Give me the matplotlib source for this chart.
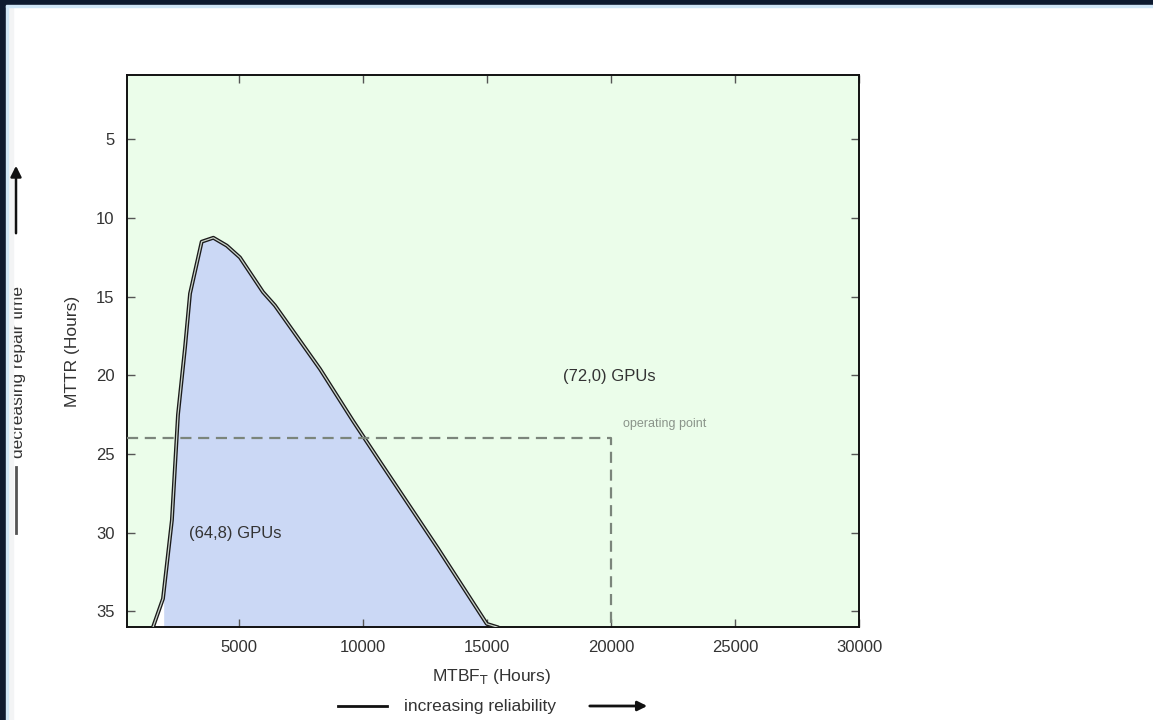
import matplotlib.pyplot as plt
from matplotlib.patches import Rectangle, FancyArrowPatch

plt.rcParams['font.family'] = ['Liberation Sans', 'DejaVu Sans']

# boundary curve of the (64,8) GPU region: MTBF_T (hours) vs MTTR (hours)
mtbf = [1550, 1950, 2310, 2555, 2840, 3040, 3510, 3980, 4520, 5050,
        5980, 6460, 8280, 9610, 10700, 13030, 15000, 15410]
mttr = [36.0, 34.2, 29.2, 22.5, 18.2, 14.8, 11.5, 11.25, 11.75, 12.5,
        14.7, 15.55, 19.6, 22.9, 25.5, 31.0, 35.8, 36.0]

# operating point
op_mtbf = 20000
op_mttr = 24

xticks = [5000, 10000, 15000, 20000, 25000, 30000]
yticks = [5, 10, 15, 20, 25, 30, 35]

W, H = 1153, 720
fig = plt.figure(figsize=(W / 100, H / 100), dpi=100)
fig.patch.set_facecolor('white')

def fx(px):
    return px / W

def fy(py):
    return 1 - py / H

ax = fig.add_axes([fx(127), fy(627), fx(859) - fx(127), fy(75) - fy(627)])
ax.set_facecolor('#ebfdea')
ax.set_xlim(500, 30000)
ax.set_ylim(36, 0.9)

# shaded region under the curve
ax.fill_between(mtbf, mttr, 36, color='#cbd8f5', zorder=1)
ax.fill_between(mtbf[:2], mttr[:2], 36, color='white', zorder=1.5)
ax.plot(mtbf, mttr, color='#1a1a1a', lw=2.8, zorder=3, solid_joinstyle='round')
ax.plot(mtbf, mttr, color='#c9d2c9', lw=0.9, zorder=4)

# operating point dashed lines
ax.plot([500, op_mtbf, op_mtbf], [op_mttr, op_mttr, 36], color='#7b857b',
        lw=1.6, dashes=(5, 3), zorder=5)

ax.text(18070, 20.1, '(72,0) GPUs', fontsize=12, color='#333333', va='center')
ax.text(3000, 30.05, '(64,8) GPUs', fontsize=12, color='#333333', va='center')
ax.text(20490, 23.1, 'operating point', fontsize=9, color='#8a948a', va='center')

ax.set_xticks(xticks)
ax.set_yticks(yticks)
ax.tick_params(direction='in', length=6, width=1, color='#555555',
               labelsize=12, labelcolor='#333333', pad=9,
               top=True, right=True)
for s in ax.spines.values():
    s.set_linewidth(1.4)
    s.set_color('#111111')

fig.text(fx(72), fy(351), 'MTTR (Hours)', rotation=90, fontsize=12.5,
         color='#333333', ha='center', va='center')
fig.text(fx(492), fy(677), 'MTBF$_\\mathrm{T}$ (Hours)', fontsize=12.5,
         color='#333333', ha='center', va='center')
fig.text(fx(480), fy(707), 'increasing reliability', fontsize=12.5,
         color='#333333', ha='center', va='center')
fig.add_artist(plt.Line2D([fx(338), fx(387)], [fy(706), fy(706)], color='#111111', lw=2))
fig.add_artist(FancyArrowPatch((fx(587), fy(706)), (fx(650), fy(706)),
                               transform=fig.transFigure, arrowstyle='-|>',
                               mutation_scale=14, color='#111111', lw=2))

fig.text(fx(19), fy(372), 'decreasing repair time', rotation=90, fontsize=12.5,
         color='#333333', ha='center', va='center', zorder=1)
fig.add_artist(FancyArrowPatch((fx(16), fy(236)), (fx(16), fy(163)),
                               transform=fig.transFigure, arrowstyle='-|>',
                               mutation_scale=16, color='#111111', lw=1.8,
                               zorder=12))
fig.add_artist(plt.Line2D([fx(16), fx(16)], [fy(467), fy(533)], color='#555555', lw=2,
                          zorder=12))

# slide frame
fig.add_artist(Rectangle((fx(7), 0), fx(6), 1, transform=fig.transFigure,
                         color='#f3f4f5', zorder=10))
fig.add_artist(Rectangle((0, 0), fx(6), 1, transform=fig.transFigure,
                         color='#0d1a30', zorder=11))
fig.add_artist(Rectangle((fx(6), 0), fx(2), fy(5), transform=fig.transFigure,
                         color='#cfe6f7', zorder=11))
fig.add_artist(Rectangle((0, fy(5)), 1, 5 / H, transform=fig.transFigure,
                         color='#0d1a30', zorder=11))
fig.add_artist(Rectangle((fx(6), fy(7)), 1, 2 / H, transform=fig.transFigure,
                         color='#cfe6f7', zorder=11))

fig.savefig('out.png', dpi=100)
